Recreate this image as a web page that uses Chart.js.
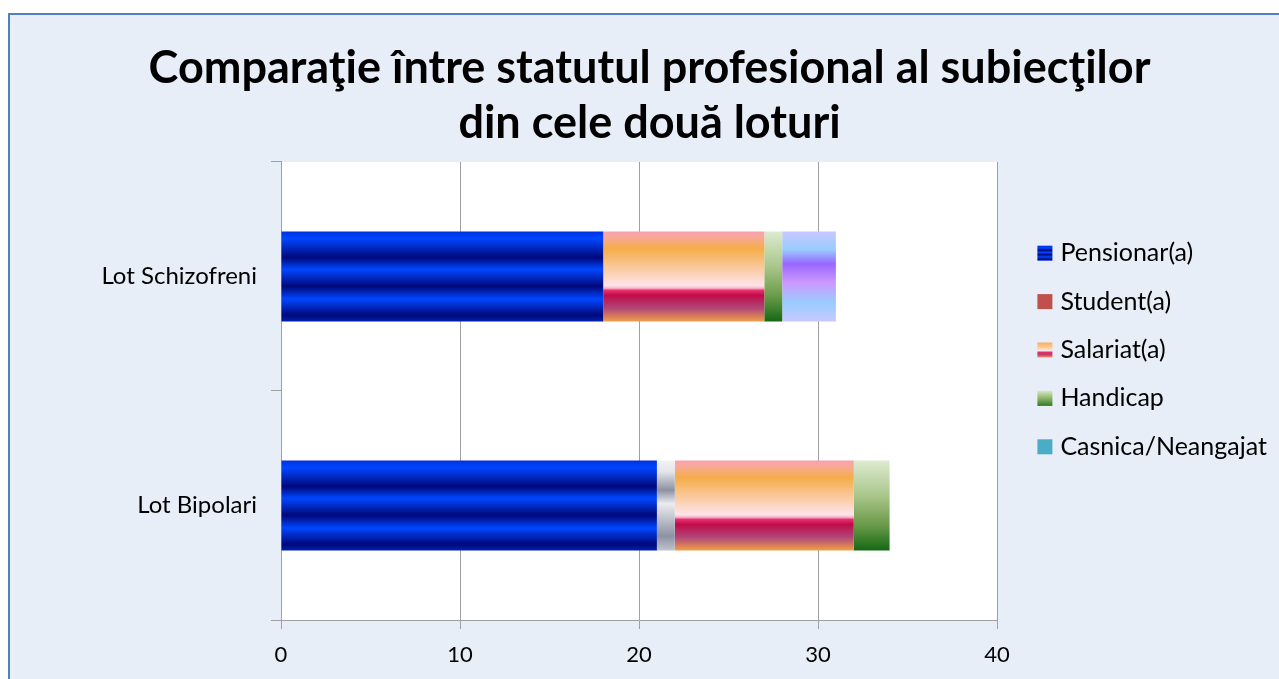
<!DOCTYPE html>
<html><head><meta charset="utf-8">
<script src="https://cdn.jsdelivr.net/npm/chart.js@4.4.1/dist/chart.umd.min.js"></script>
<style>
html,body{margin:0;padding:0;background:#fff;overflow:hidden;width:1279px;height:679px;}
#frame{position:absolute;left:8px;top:13px;width:1290px;height:700px;border:2px solid #4F81BD;background:#E7EEF7;}
#wrap{position:absolute;left:0;top:0;width:1269px;height:664px;}
</style></head><body>
<div id="frame"><div id="wrap"><canvas id="c"></canvas></div></div>
<script>
// ---- data ----
const categories = ['Lot Schizofreni', 'Lot Bipolari'];
const seriesNames = ['Pensionar(a)', 'Student(a)', 'Salariat(a)', 'Handicap', 'Casnica/Neangajat'];
const pensionar = [18, 21];
const student = [0, 1];
const salariat = [9, 10];
const handicap = [1, 2];
const casnica = [3, 0];
const xTicks = [0, 10, 20, 30, 40];
const chartTitle = ['Comparaţie între statutul profesional al subiecţilor', 'din cele două loturi'];

// ---- styles ----
const FONT = 'Lato, "Open Sans", sans-serif';
const CAT_PCT = 0.393;
const barStops = [
  [[0,'#0030E0'],[0.08,'#0046FF'],[0.29,'#00087A'],[0.42,'#0046FF'],[0.61,'#00087A'],[0.75,'#0046FF'],[0.93,'#00087A'],[1,'#0020B0']],
  [[0,'#F2F2F5'],[0.12,'#E6E6EA'],[0.33,'#8C92A2'],[0.48,'#ECECF0'],[0.84,'#8C92A2'],[1,'#C0C4CC']],
  [[0,'#F8A0B0'],[0.05,'#F8A8A0'],[0.19,'#F6AC48'],[0.6,'#FDE4EA'],[0.63,'#F7B8C8'],[0.655,'#E83070'],[0.71,'#C00C48'],[0.85,'#B04478'],[1,'#F0A048']],
  [[0,'#DDEBD0'],[0.4,'#A8C588'],[0.72,'#6A9A4A'],[1,'#146814']],
  [[0,'#C8C8FF'],[0.2,'#99CCFF'],[0.36,'#9966FF'],[0.57,'#CC99FF'],[0.79,'#99CCFF'],[1,'#C8C8FF']]
];
const fallback = ['#0030D0','#B0B4C0','#F6AC48','#6A9A4A','#B0A0FF'];
const legendSwatch = [
  [[0,'#0030E0'],[0.15,'#0046FF'],[0.3,'#00087A'],[0.45,'#0046FF'],[0.6,'#00087A'],[0.75,'#0046FF'],[0.9,'#00087A'],[1,'#0030D0']],
  [[0,'#C0504D'],[1,'#C0504D']],
  [[0,'#F8AE60'],[0.3,'#FBC890'],[0.55,'#FDE8EC'],[0.65,'#D8306A'],[0.82,'#C83870'],[1,'#F0A058']],
  [[0,'#D4E6C0'],[0.5,'#8AB46A'],[1,'#2E7A22']],
  [[0,'#4BACC6'],[1,'#4BACC6']]
];
const LEGEND_W = 282, LEGEND_DX = 12.5, LEGEND_DY = 3, BOX = 15, LEG_FONT = 25, SWATCH_DX = 4.5;

function barFill(i) {
  return (c) => {
    const chart = c.chart, area = chart.chartArea;
    if (!area || c.type !== 'data' || !chart.scales.y) return fallback[i];
    const center = chart.scales.y.getPixelForValue(c.dataIndex);
    const half = (area.bottom - area.top) / categories.length * CAT_PCT / 2;
    const g = chart.ctx.createLinearGradient(0, center - half, 0, center + half);
    barStops[i].forEach(([t, col]) => g.addColorStop(t, col));
    return g;
  };
}

const values = [pensionar, student, salariat, handicap, casnica];
const datasets = seriesNames.map((name, i) => ({
  label: name,
  data: values[i],
  backgroundColor: barFill(i),
  borderWidth: 0,
  categoryPercentage: CAT_PCT,
  barPercentage: 1
}));

const framePlugin = {
  id: 'framePlugin',
  beforeLayout(chart) {
    const lg = chart.legend;
    if (lg && !lg._patched) {
      const f = lg.fit;
      lg.fit = function () { f.call(this); this.width = LEGEND_W; };
      lg._patched = true;
    }
  },
  afterLayout(chart) {
    const lg = chart.legend;
    lg.left += LEGEND_DX; lg.right += LEGEND_DX;
    lg.top += LEGEND_DY; lg.bottom += LEGEND_DY;
  },
  beforeDraw(chart) {
    const a = chart.chartArea, ctx = chart.ctx;
    ctx.save(); ctx.fillStyle = '#FFFFFF';
    ctx.fillRect(a.left, a.top, a.right - a.left, a.bottom - a.top);
    ctx.restore();
  },
  afterDraw(chart) {
    const lg = chart.legend, ctx = chart.ctx;
    if (!lg || !lg.legendHitBoxes) return;
    lg.legendHitBoxes.forEach((hb, i) => {
      const x = hb.left + SWATCH_DX, y = hb.top + Math.max((LEG_FONT - BOX) / 2, 0);
      const g = ctx.createLinearGradient(0, y, 0, y + BOX);
      legendSwatch[i].forEach(([t, col]) => g.addColorStop(t, col));
      ctx.save(); ctx.fillStyle = g; ctx.fillRect(x, y, BOX, BOX); ctx.restore();
    });
  }
};

new Chart(document.getElementById('c'), {
  type: 'bar',
  data: { labels: categories, datasets },
  plugins: [framePlugin],
  options: {
    indexAxis: 'y',
    responsive: true,
    maintainAspectRatio: false,
    animation: false,
    layout: { padding: { left: 10, right: 0, top: 0, bottom: 0 } },
    plugins: {
      title: {
        display: true, text: chartTitle, color: '#000',
        font: { family: FONT, size: 45, weight: 'bold', lineHeight: 1.244 },
        padding: { top: 25, bottom: 10 }
      },
      legend: {
        position: 'right', align: 'center',
        labels: {
          color: '#000', boxWidth: BOX, boxHeight: BOX, padding: 23.4,
          font: { family: FONT, size: LEG_FONT },
          generateLabels(chart) {
            const items = Chart.defaults.plugins.legend.labels.generateLabels(chart);
            items.forEach((it) => { it.fillStyle = 'rgba(0,0,0,0)'; it.strokeStyle = 'rgba(0,0,0,0)'; it.lineWidth = 0; });
            return items;
          }
        }
      },
      tooltip: { enabled: false }
    },
    scales: {
      x: {
        stacked: true, min: 0, max: 40,
        afterBuildTicks(s) { s.ticks = xTicks.map(v => ({ value: v })); },
        afterFit(s) { s.height = 59; },
        ticks: { color: '#000', font: { family: FONT, size: 22 }, padding: 13 },
        grid: { color: '#A0A0A0', tickLength: 9 },
        border: { color: '#A0A0A0' }
      },
      y: {
        stacked: true,
        afterFit(s) { s.width = 261; },
        ticks: { color: '#000', font: { family: FONT, size: 24 }, padding: 14 },
        grid: { offset: true, drawOnChartArea: false, tickLength: 10, color: '#A0A0A0' },
        border: { color: '#A0A0A0' }
      }
    }
  }
});
</script>
</body></html>
